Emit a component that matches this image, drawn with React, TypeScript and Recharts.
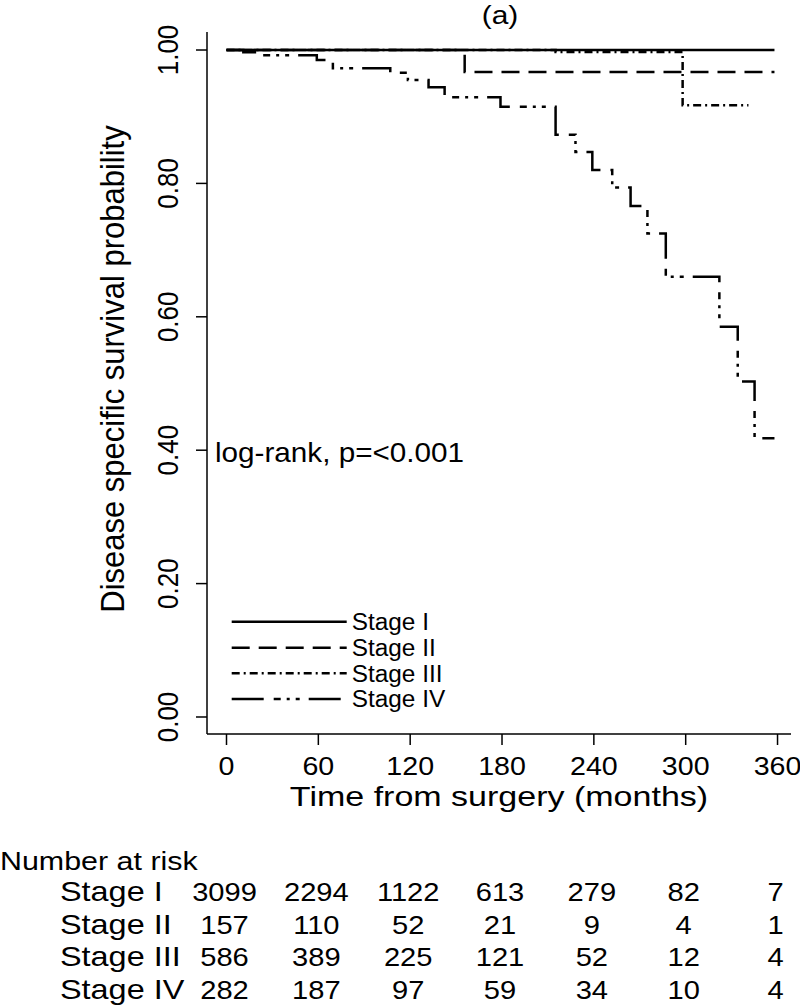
import { LineChart, Line, XAxis, YAxis, Label } from 'recharts'

const FONT = 'Arial, "Liberation Sans", sans-serif'

const stageNames = ['Stage I', 'Stage II', 'Stage III', 'Stage IV']

// Kaplan-Meier steps (months, survival)
const stage1Time = [0, 358]
const stage1Surv = [1, 1]
const stage2Time = [0, 155.6, 358]
const stage2Surv = [1, 0.967, 0.967]
const stage3Time = [0, 215, 298, 341]
const stage3Surv = [1, 0.997, 0.917, 0.917]
const stage4Time = [0, 11, 21, 59, 69.5, 107, 118.5, 132, 142.5, 179, 215, 228, 239, 252, 264, 275, 287, 322, 334, 345, 358]
const stage4Surv = [1, 0.9965, 0.992, 0.985, 0.9725, 0.966, 0.955, 0.944, 0.929, 0.915, 0.873, 0.847, 0.82, 0.794, 0.766, 0.725, 0.66, 0.585, 0.503, 0.418, 0.418]

const xTicks = [0, 60, 120, 180, 240, 300, 360]
const yTicks = [0, 0.2, 0.4, 0.6, 0.8, 1]

// number at risk at each x tick
const riskStage1 = [3099, 2294, 1122, 613, 279, 82, 7]
const riskStage2 = [157, 110, 52, 21, 9, 4, 1]
const riskStage3 = [586, 389, 225, 121, 52, 12, 4]
const riskStage4 = [282, 187, 97, 59, 34, 10, 4]

const DASHES = [undefined, '18 9', '8 4 2 4', '32 10 7 6 3 6 4 9']

const PLOT_LEFT = 207
const PLOT_RIGHT = 791
const PLOT_TOP = 32
const PLOT_BOTTOM = 734
const X_MIN = -12.74
const X_MAX = 368.8
const Y_MIN = -0.0255
const Y_MAX = 1.027

const xPos = (t: number) => PLOT_LEFT + ((t - X_MIN) / (X_MAX - X_MIN)) * (PLOT_RIGHT - PLOT_LEFT)

const toRows = (times: number[], surv: number[]) => times.map((t, i) => ({ t, s: surv[i] }))

const series = [
  toRows(stage1Time, stage1Surv),
  toRows(stage2Time, stage2Surv),
  toRows(stage3Time, stage3Surv),
  toRows(stage4Time, stage4Surv),
]
const riskRows = [riskStage1, riskStage2, riskStage3, riskStage4]

function XTick(props: any) {
  const { x, payload } = props
  return (
    <text
      transform={`translate(${x},${PLOT_BOTTOM + 41}) scale(1.1,1)`}
      textAnchor="middle"
      fontSize={26}
      fontFamily={FONT}
      fill="#000"
    >
      {payload.value}
    </text>
  )
}

function YTick(props: any) {
  const { y, payload } = props
  return (
    <text
      transform={`translate(178,${y}) scale(1.17,1) rotate(-90)`}
      textAnchor="middle"
      fontSize={26}
      fontFamily={FONT}
      fill="#000"
    >
      {Number(payload.value).toFixed(2)}
    </text>
  )
}

function XTitle(props: any) {
  const { viewBox } = props
  const cx = viewBox.x + viewBox.width / 2
  return (
    <text
      transform={`translate(${cx},${PLOT_BOTTOM + 72}) scale(1.26,1)`}
      textAnchor="middle"
      fontSize={27}
      fontFamily={FONT}
      fill="#000"
    >
      Time from surgery (months)
    </text>
  )
}

function YTitle(props: any) {
  const { viewBox } = props
  const cy = viewBox.y + viewBox.height / 2 - 14
  return (
    <text
      transform={`translate(123.5,${cy}) scale(1.08,1) rotate(-90)`}
      textAnchor="middle"
      fontSize={31}
      fontFamily={FONT}
      fill="#000"
    >
      Disease specific survival probability
    </text>
  )
}

const legendRowsY = [621.7, 647.7, 673.3, 699]
const riskRowsY = [901, 933.5, 966, 998.5]

export default function App() {
  const axisStyle = { stroke: '#000', strokeWidth: 1.5 }
  return (
    <div style={{ position: 'absolute', left: 0, top: 0, width: 800, height: 1005, background: '#fff' }}>
      <LineChart width={800} height={1005} margin={{ top: PLOT_TOP, right: 800 - PLOT_RIGHT, bottom: 1005 - PLOT_BOTTOM - 60, left: PLOT_LEFT - 100 }}>
        <XAxis
          type="number"
          dataKey="t"
          domain={[X_MIN, X_MAX]}
          ticks={xTicks}
          allowDataOverflow
          height={60}
          tickSize={11}
          axisLine={axisStyle}
          tickLine={axisStyle}
          tick={<XTick />}
          interval={0}
        >
          <Label content={<XTitle />} />
        </XAxis>
        <YAxis
          type="number"
          domain={[Y_MIN, Y_MAX]}
          ticks={yTicks}
          allowDataOverflow
          width={100}
          tickSize={11}
          axisLine={axisStyle}
          tickLine={axisStyle}
          tick={<YTick />}
          interval={0}
        >
          <Label content={<YTitle />} />
        </YAxis>
        {series.map((data, i) => (
          <Line
            key={stageNames[i]}
            name={stageNames[i]}
            data={data}
            dataKey="s"
            type="stepAfter"
            stroke="#000"
            strokeWidth={2.5}
            strokeDasharray={DASHES[i]}
            dot={false}
            activeDot={false}
            isAnimationActive={false}
          />
        ))}
      </LineChart>

      <svg width={800} height={1005} style={{ position: 'absolute', left: 0, top: 0, pointerEvents: 'none' }} fontFamily={FONT}>
        <text transform="translate(500,24) scale(1.15,1)" textAnchor="middle" fontSize={26} fill="#000">
          (a)
        </text>
        <text transform="translate(215,461.7) scale(1.06,1)" fontSize={28} fill="#000">
          log-rank, p=&lt;0.001
        </text>

        {stageNames.map((name, i) => (
          <g key={name}>
            <line x1={231.7} x2={346.7} y1={legendRowsY[i]} y2={legendRowsY[i]} stroke="#000" strokeWidth={2.5} strokeDasharray={DASHES[i]} />
            <text transform={`translate(351.7,${legendRowsY[i] + 8.2}) scale(1.06,1)`} fontSize={23} fill="#000">
              {name}
            </text>
          </g>
        ))}

        <text transform="translate(0,870) scale(1.17,1)" fontSize={26} fill="#000">
          Number at risk
        </text>
        {stageNames.map((name, i) => (
          <g key={name}>
            <text transform={`translate(60,${riskRowsY[i]}) scale(1.2,1)`} fontSize={27} fill="#000">
              {name}
            </text>
            {riskRows[i].map((n, j) => (
              <text
                key={j}
                transform={`translate(${xPos(xTicks[j]) - 2},${riskRowsY[i]}) scale(1.12,1)`}
                textAnchor="middle"
                fontSize={26}
                fill="#000"
              >
                {n}
              </text>
            ))}
          </g>
        ))}
      </svg>
    </div>
  )
}
